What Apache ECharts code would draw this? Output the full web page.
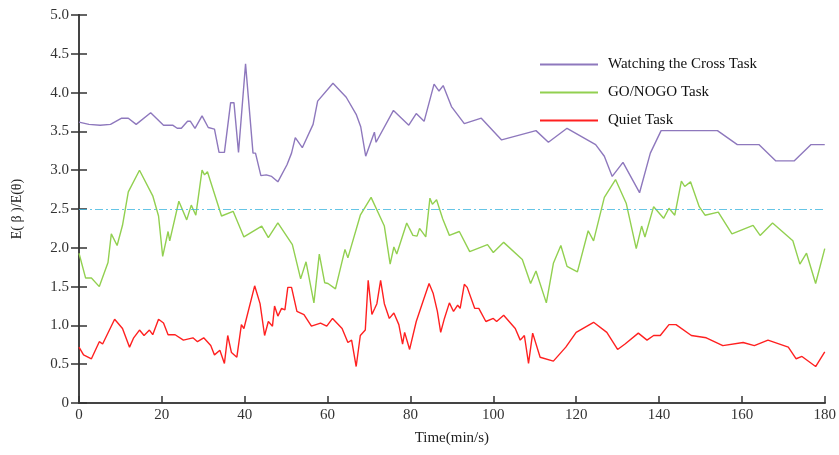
<!doctype html>
<html lang="en">
<head>
<meta charset="UTF-8">
<title>E(beta)/E(theta) over time</title>
<script src="https://cdn.jsdelivr.net/npm/echarts@6/dist/echarts.min.js"></script>
<style>
  html, body { margin: 0; padding: 0; background: #fff; }
  #main { width: 839px; height: 455px; }
</style>
</head>
<body>
<div id="main"></div>
<script>
// values: [time, ratio]
var crossTask = [
  [0,3.62],[2.4,3.59],[5.1,3.58],[7.6,3.59],[10.3,3.67],[11.9,3.67],[13.8,3.59],[17.3,3.74],
  [20.4,3.58],[22.6,3.58],[23.7,3.54],[24.7,3.54],[26.2,3.63],[26.9,3.63],[28.0,3.54],[29.7,3.70],
  [31.2,3.55],[32.7,3.53],[33.8,3.23],[35.1,3.23],[36.6,3.87],[37.4,3.87],[38.5,3.23],[40.2,4.37],
  [42.0,3.22],[42.6,3.22],[43.9,2.93],[45.2,2.94],[46.5,2.92],[48.0,2.85],[50.2,3.07],[51.3,3.22],
  [52.2,3.42],[53.9,3.29],[56.5,3.59],[57.6,3.89],[61.3,4.12],[64.5,3.94],[66.9,3.72],[68.0,3.56],
  [69.2,3.18],[71.3,3.49],[71.7,3.36],[75.9,3.77],[79.6,3.58],[81.4,3.73],[83.3,3.63],[85.7,4.11],
  [86.9,4.02],[87.9,4.09],[89.9,3.82],[93.0,3.60],[97.1,3.67],[102.0,3.39],[110.3,3.51],[113.3,3.36],
  [117.8,3.54],[124.7,3.33],[126.8,3.18],[128.7,2.92],[131.3,3.10],[135.3,2.71],[137.9,3.22],[140.5,3.51],
  [154.1,3.51],[158.9,3.33],[164.1,3.33],[168.2,3.12],[172.6,3.12],[176.7,3.33],[180,3.33]
];
var goNogoTask = [
  [0,1.93],[1.6,1.61],[3.0,1.61],[4.9,1.50],[7.0,1.81],[7.8,2.18],[9.2,2.03],[10.5,2.29],
  [11.9,2.72],[14.6,3.0],[17.8,2.67],[19.2,2.41],[20.2,1.89],[21.5,2.21],[21.9,2.09],[24.1,2.60],
  [26.0,2.36],[27.1,2.55],[28.2,2.42],[29.7,3.0],[30.3,2.94],[31.0,2.98],[34.4,2.41],[37.2,2.47],
  [39.8,2.14],[44.1,2.28],[45.7,2.13],[48.0,2.32],[51.5,2.04],[53.5,1.60],[54.8,1.82],[56.7,1.29],
  [58.0,1.92],[59.3,1.55],[60.1,1.54],[61.9,1.47],[64.2,1.98],[64.9,1.87],[67.9,2.42],[70.5,2.65],
  [73.7,2.28],[75.1,1.79],[76.0,2.01],[76.7,1.92],[79.1,2.32],[80.6,2.16],[81.6,2.15],[82.2,2.25],
  [83.7,2.14],[84.7,2.64],[85.3,2.56],[86.3,2.62],[87.8,2.37],[89.4,2.16],[91.8,2.21],[94.3,1.95],
  [98.6,2.04],[100,1.94],[102.5,2.07],[107,1.85],[109,1.54],[110.3,1.70],[112.8,1.29],[114.5,1.80],
  [116.3,2.03],[117.8,1.76],[120.3,1.69],[122.9,2.22],[124.2,2.09],[126.8,2.65],[129.5,2.88],[132.1,2.57],
  [134.5,1.99],[135.8,2.28],[136.6,2.14],[138.7,2.53],[141.1,2.38],[142.4,2.51],[143.8,2.42],[145.4,2.86],
  [146.2,2.79],[147.6,2.85],[149.7,2.53],[151.1,2.42],[154.3,2.46],[157.6,2.18],[162.7,2.29],[164.4,2.16],
  [167.4,2.32],[172.3,2.09],[174.0,1.79],[175.6,1.93],[177.8,1.54],[180,1.99]
];
var quietTask = [
  [0,0.72],[1.1,0.62],[3.0,0.57],[4.9,0.79],[5.7,0.76],[8.6,1.08],[10.5,0.96],[12.2,0.72],
  [13.2,0.84],[14.6,0.94],[15.7,0.87],[17.0,0.94],[17.8,0.88],[19.2,1.08],[20.4,1.03],[21.5,0.88],
  [23.2,0.88],[25.2,0.81],[27.5,0.84],[28.6,0.79],[30.1,0.84],[31.8,0.74],[32.7,0.62],[34.0,0.68],
  [35.1,0.51],[35.9,0.87],[36.8,0.65],[38.1,0.59],[39.2,1.01],[39.8,0.96],[42.4,1.51],[43.7,1.28],
  [44.8,0.87],[45.7,1.05],[46.7,0.99],[47.2,1.25],[48.0,1.12],[48.9,1.22],[49.7,1.20],[50.4,1.49],
  [51.3,1.49],[52.6,1.18],[54.3,1.14],[56.1,0.99],[58.3,1.03],[59.8,0.99],[61.2,1.09],[63.5,0.96],
  [64.9,0.78],[65.8,0.81],[66.9,0.47],[67.9,0.87],[69.1,0.94],[69.8,1.58],[70.7,1.14],[71.4,1.22],
  [71.9,1.28],[72.8,1.58],[73.7,1.28],[74.9,1.09],[76.0,1.16],[77.2,1.01],[78.1,0.76],[78.6,0.91],
  [79.8,0.69],[81.4,1.05],[83.1,1.32],[84.5,1.54],[85.5,1.41],[86.5,1.18],[87.3,0.91],[88.2,1.09],
  [89.4,1.29],[90.4,1.18],[91.4,1.26],[92.0,1.22],[93.0,1.53],[93.7,1.49],[95.5,1.22],[96.5,1.22],
  [98.2,1.05],[100,1.09],[100.8,1.05],[102.5,1.13],[105.3,0.96],[106.5,0.81],[107.5,0.87],[108.5,0.51],
  [109.5,0.90],[111.3,0.59],[114.5,0.54],[117.5,0.72],[120.0,0.91],[124.2,1.04],[127.4,0.91],[130.0,0.69],
  [131.8,0.76],[135.0,0.90],[137.1,0.81],[138.7,0.87],[140.3,0.87],[142.4,1.01],[144.1,1.01],[147.8,0.87],
  [151.4,0.84],[155.4,0.74],[160.3,0.78],[163.0,0.74],[166.3,0.81],[171.2,0.72],[173.1,0.57],[174.5,0.60],
  [177.8,0.47],[180,0.66]
];
var seriesNames = ['Watching the Cross Task', 'GO/NOGO Task', 'Quiet Task'];
var seriesColors = ['#8e78bd', '#92d050', '#ff2020'];
var refLevel = 2.5;

var font = '"Liberation Serif", "DejaVu Serif", serif';
var axisColor = '#444';

var myChart = echarts.init(document.getElementById('main'));

function lineSeries(i, data) {
    return {
        name: seriesNames[i],
        type: 'line',
        data: data,
        showSymbol: false,
        symbol: 'none',
        color: seriesColors[i],
        lineStyle: { width: 1.4, color: seriesColors[i] }
    };
}

var s2 = lineSeries(1, goNogoTask);
s2.markLine = {
    silent: true,
    symbol: ['none', 'none'],
    label: { show: false },
    lineStyle: { type: [8, 3, 2, 3], color: '#3fb6e0', width: 1, opacity: 0.8 },
    emphasis: { disabled: true },
    data: [{ yAxis: refLevel }]
};

var option = {
    animation: false,
    grid: { left: 79, right: 14, top: 15, bottom: 52 },
    legend: {
        orient: 'vertical',
        left: 535,
        top: 51,
        itemWidth: 58,
        itemHeight: 2,
        itemGap: 11,
        icon: 'rect',
        data: seriesNames,
        textStyle: { fontFamily: font, fontSize: 15, color: '#111', lineHeight: 17, padding: [0, 0, 0, 5] }
    },
    xAxis: [{
        type: 'value',
        min: 0, max: 180, interval: 20,
        name: 'Time(min/s)',
        nameLocation: 'middle',
        nameGap: 28,
        nameTextStyle: { fontFamily: font, fontSize: 15, color: '#222' },
        axisLine: { lineStyle: { color: axisColor, width: 2 } },
        axisTick: { inside: true, length: 7, lineStyle: { color: '#333', width: 1.5 } },
        axisLabel: { fontFamily: font, fontSize: 15, color: '#333', margin: 5 },
        splitLine: { show: false }
    }, {
        type: 'value',
        position: 'top',
        min: 0, max: 180, interval: 20,
        axisLine: { show: true, lineStyle: { color: axisColor, width: 2 } },
        axisTick: { show: false },
        axisLabel: { show: false },
        splitLine: { show: false }
    }],
    yAxis: [{
        type: 'value',
        min: 0, max: 5, interval: 0.5,
        name: 'E( β )/E(θ)',
        nameLocation: 'middle',
        nameGap: 55,
        nameTextStyle: { fontFamily: font, fontSize: 14, color: '#222' },
        axisLine: { show: true, lineStyle: { color: axisColor, width: 2 } },
        axisTick: { show: true, inside: true, length: 8, lineStyle: { color: '#333', width: 1.5 } },
        axisLabel: {
            fontFamily: font, fontSize: 15, color: '#333', margin: 10,
            formatter: function (v) { return v === 0 ? '0' : v.toFixed(1); }
        },
        splitLine: { show: false }
    }, {
        type: 'value',
        position: 'right',
        min: 0, max: 5, interval: 0.5,
        axisLine: { show: true, lineStyle: { color: axisColor, width: 2 } },
        axisTick: { show: true, inside: true, length: 8, lineStyle: { color: '#333', width: 1.5 } },
        axisLabel: { show: false },
        splitLine: { show: false }
    }],
    series: [
        lineSeries(0, crossTask),
        s2,
        lineSeries(2, quietTask)
    ]
};

myChart.setOption(option);
</script>
</body>
</html>
